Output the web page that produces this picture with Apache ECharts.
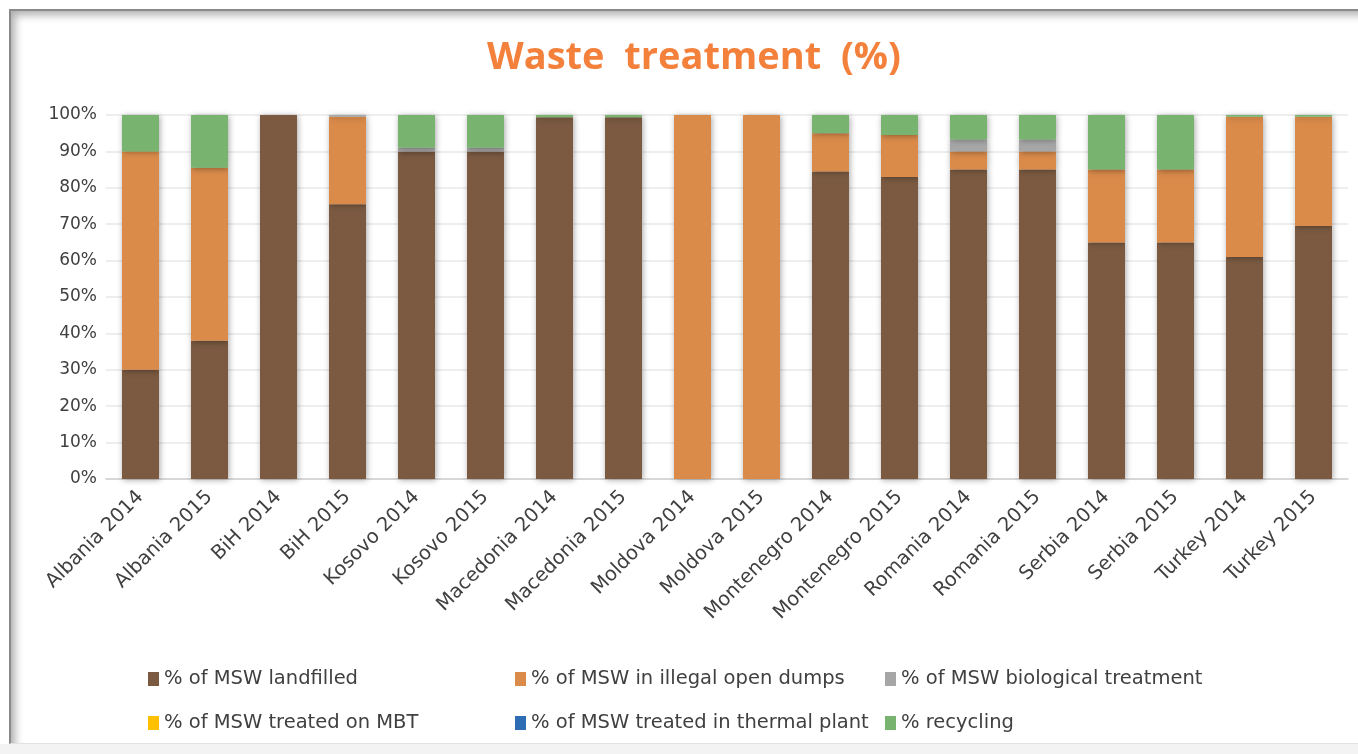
<!DOCTYPE html>
<html>
<head>
<meta charset="utf-8">
<title>Waste treatment (%)</title>
<script src="https://cdn.jsdelivr.net/npm/echarts@6/dist/echarts.min.js"></script>
<style>
  html, body { margin: 0; padding: 0; background: #ffffff; }
  body { width: 1358px; height: 754px; position: relative; overflow: hidden; }
  #frame {
    position: absolute; left: 9px; top: 9px; width: 1360px; height: 732px;
    border-left: 2px solid #8a8a8a; border-top: 2px solid #8a8a8a;
    border-bottom: 1px solid #e2e2e2;
    box-shadow: inset 7px 7px 9px -3px rgba(0,0,0,0.32);
    background: #ffffff;
  }
  #strip { position: absolute; left: 0; top: 744px; width: 1358px; height: 10px; background: #f3f3f3; }
  #chart { position: absolute; left: 0; top: 0; width: 1358px; height: 754px; }
</style>
</head>
<body>
<div id="frame"></div>
<div id="strip"></div>
<div id="chart"></div>
<script>
// Country / year columns
const categories = [
  'Albania 2014', 'Albania 2015', 'BiH 2014', 'BiH 2015', 'Kosovo 2014', 'Kosovo 2015',
  'Macedonia 2014', 'Macedonia 2015', 'Moldova 2014', 'Moldova 2015',
  'Montenegro 2014', 'Montenegro 2015', 'Romania 2014', 'Romania 2015',
  'Serbia 2014', 'Serbia 2015', 'Turkey 2014', 'Turkey 2015'
];

// Shares of municipal solid waste (%) per treatment route
const landfilled  = [30, 38, 100, 75.5, 90, 90, 99.4, 99.4, 0, 0, 84.5, 83, 85, 85, 65, 65, 61, 69.5];
const illegalDumps = [60, 47.5, 0, 24, 0, 0, 0, 0, 100, 100, 10.5, 11.5, 5, 5, 20, 20, 38.5, 30];
const biological  = [0, 0, 0, 0.5, 1, 1, 0, 0, 0, 0, 0, 0, 3.3, 3.3, 0, 0, 0, 0];
const treatedMBT  = [0, 0, 0, 0, 0, 0, 0, 0, 0, 0, 0, 0, 0, 0, 0, 0, 0, 0];
const thermal     = [0, 0, 0, 0, 0, 0, 0, 0, 0, 0, 0, 0, 0, 0, 0, 0, 0, 0];
const recycling   = [10, 14.5, 0, 0, 9, 9, 0.6, 0.6, 0, 0, 5, 5.5, 6.7, 6.7, 15, 15, 0.5, 0.5];

const seriesNames = [
  '% of MSW landfilled',
  '% of MSW in illegal open dumps',
  '% of MSW biological treatment',
  '% of MSW treated on MBT',
  '% of MSW treated in thermal plant',
  '% recycling'
];
const seriesData = [landfilled, illegalDumps, biological, treatedMBT, thermal, recycling];
const seriesColors = ['#7b5a41', '#da8b4a', '#a6a6a6', '#ffc000', '#2e6db4', '#78b46f'];

const yTicks = { min: 0, max: 100, interval: 10 };

const labelFont = '"DejaVu Sans", "Open Sans", sans-serif';
const titleFont = '"Open Sans", "Liberation Sans", sans-serif';

const chart = echarts.init(document.getElementById('chart'), null, { renderer: 'canvas' });

const legendBase = {
  orient: 'vertical',
  top: 664,
  itemWidth: 11,
  itemHeight: 14,
  itemGap: 24,
  icon: 'rect',
  textStyle: { fontFamily: labelFont, fontSize: 19.5, color: '#404040', padding: [0, 0, 0, 0] },
  selectedMode: false
};

chart.setOption({
  backgroundColor: 'transparent',
  animation: false,
  title: {
    text: 'Waste  treatment  (%)',
    left: 482,
    top: 34,
    textStyle: {
      fontFamily: titleFont,
      fontWeight: 'bold',
      fontSize: 38,
      color: '#f4813b'
    }
  },
  legend: [
    Object.assign({}, legendBase, { left: 143, data: [seriesNames[0], seriesNames[3]] }),
    Object.assign({}, legendBase, { left: 510, data: [seriesNames[1], seriesNames[4]] }),
    Object.assign({}, legendBase, { left: 880, data: [seriesNames[2], seriesNames[5]] })
  ],
  grid: { left: 106, right: 10, top: 115, bottom: 275, containLabel: false },
  xAxis: {
    type: 'category',
    data: categories,
    axisLine: { lineStyle: { color: '#d0d0d0', width: 1.5 } },
    axisTick: { show: false },
    axisLabel: {
      rotate: 45,
      interval: 0,
      margin: 15,
      fontFamily: labelFont,
      fontSize: 19.5,
      color: '#404040'
    }
  },
  yAxis: {
    type: 'value',
    min: yTicks.min,
    max: yTicks.max,
    interval: yTicks.interval,
    axisLine: { show: false },
    axisTick: { show: false },
    splitLine: { lineStyle: { color: '#e8e8e8', width: 1.5 } },
    axisLabel: {
      formatter: '{value}%',
      margin: 9,
      fontFamily: labelFont,
      fontSize: 17,
      color: '#404040'
    }
  },
  series: seriesNames.map((name, i) => ({
    name: name,
    type: 'bar',
    stack: 'total',
    data: seriesData[i],
    barWidth: 37,
    itemStyle: {
      color: seriesColors[i],
      shadowBlur: 6,
      shadowColor: 'rgba(0,0,0,0.35)',
      shadowOffsetX: 1,
      shadowOffsetY: 1
    }
  }))
});
</script>
</body>
</html>
